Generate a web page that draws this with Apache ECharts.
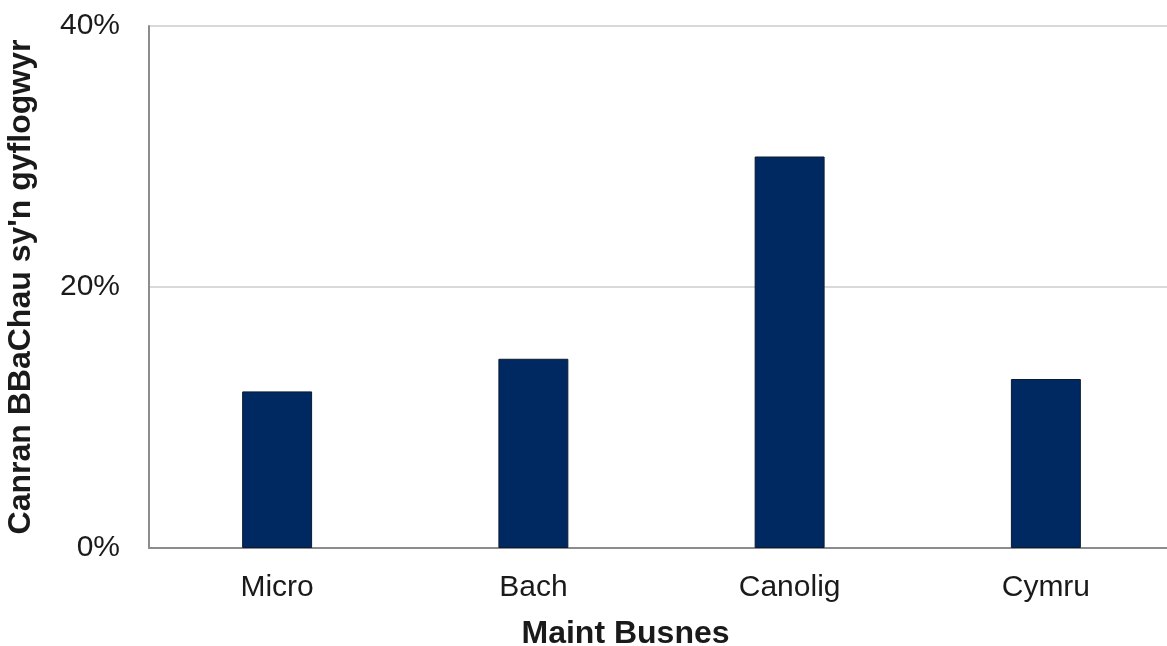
<!DOCTYPE html>
<html>
<head>
<meta charset="utf-8">
<script src="https://cdn.jsdelivr.net/npm/echarts@6/dist/echarts.min.js"></script>
<style>
html,body{margin:0;padding:0;background:#fff;}
#chart{width:1167px;height:646px;}
</style>
</head>
<body>
<div id="chart"></div>
<script>
var categories = ["Micro", "Bach", "Canolig", "Cymru"];
var values = [12.0, 14.5, 30.0, 12.95];
var yTicks = [0, 20, 40];
var xTitle = "Maint Busnes";
var yTitle = "Canran BBaChau sy'n gyflogwyr";

var chart = echarts.init(document.getElementById('chart'), null, {renderer: 'canvas'});
var font = "'Liberation Sans', Arial, sans-serif";
chart.setOption({
  animation: false,
  backgroundColor: '#ffffff',
  grid: {left: 149, right: -7, top: 26, bottom: 98, containLabel: false, outerBoundsMode: 'none'},
  xAxis: {
    type: 'category',
    data: categories,
    axisLine: {show: true, lineStyle: {color: '#8c8c8c', width: 2}},
    axisTick: {show: false},
    axisLabel: {color: '#1a1a1a', fontSize: 30, fontFamily: font, margin: 25},
    name: xTitle,
    nameLocation: 'middle',
    nameGap: 70,
    nameTextStyle: {color: '#1a1a1a', fontSize: 32, fontWeight: 'bold', fontFamily: font, padding: [0, 72, 0, 0]}
  },
  yAxis: {
    type: 'value',
    min: yTicks[0],
    max: yTicks[yTicks.length - 1],
    interval: yTicks[1] - yTicks[0],
    axisLine: {show: true, lineStyle: {color: '#8c8c8c', width: 2}},
    axisTick: {show: false},
    splitLine: {show: true, lineStyle: {color: '#d9d9d9', width: 2}},
    axisLabel: {color: '#1a1a1a', fontSize: 30, fontFamily: font, margin: 29, formatter: '{value}%'},
    name: yTitle,
    nameLocation: 'middle',
    nameRotate: 90,
    nameGap: 112,
    nameTextStyle: {color: '#1a1a1a', fontSize: 32, fontWeight: 'bold', fontFamily: font}
  },
  series: [{
    type: 'bar',
    data: values,
    barWidth: '27.3%',
    itemStyle: {color: '#002961', borderColor: '#0b1a33', borderWidth: 1}
  }]
});
</script>
</body>
</html>
